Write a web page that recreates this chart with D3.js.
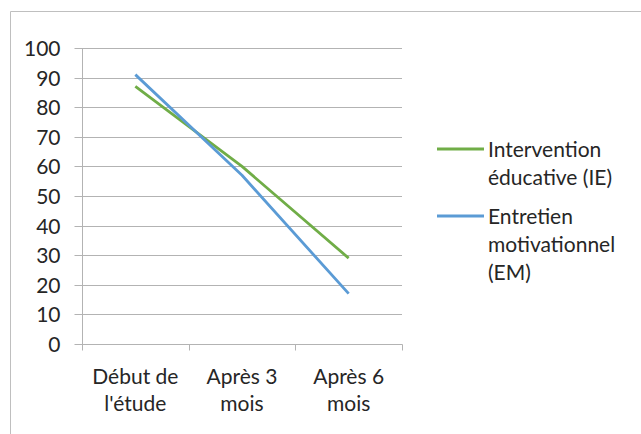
<!DOCTYPE html>
<html><head><meta charset="utf-8">
<script src="https://cdn.jsdelivr.net/npm/d3@7"></script>
<style>
html,body{margin:0;padding:0;background:#fff;}
svg{display:block;}
text{font-family:Lato,"Open Sans",sans-serif;fill:#262626;}
</style></head>
<body><svg id="c" width="641" height="434"></svg>
<script>
const categories = [["Début de","l'étude"],["Après 3","mois"],["Après 6","mois"]];
const seriesNames = [["Intervention","éducative (IE)"],["Entretien","motivationnel","(EM)"]];
const ieValues = [87, 60, 29];
const emValues = [91, 57, 17];
const yTicks = [0,10,20,30,40,50,60,70,80,90,100];
const colors = ["#70ad47","#5b9bd5"];

(function(){
const svg = d3.select("#c");
const fs = 21;
svg.append("path").attr("d","M10.5,434 V11.5 H641").attr("fill","none").attr("stroke","#bfbfbf").attr("stroke-width",1);

const pL=82, pR=402, pT=48, pB=344;
const catKeys = categories.map((c,i)=>i);
const xBand = d3.scaleBand().domain(catKeys).range([pL,pR]);
const x = d3.scalePoint().domain(catKeys).range([pL,pR]).padding(0.5);
const y = d3.scaleLinear().domain([0,100]).range([pB,pT]);

svg.append("g").selectAll("line").data(yTicks.filter(d=>d>0)).join("line")
  .attr("x1",pL).attr("x2",pR)
  .attr("y1",d=>Math.round(y(d))+0.5).attr("y2",d=>Math.round(y(d))+0.5)
  .attr("stroke","#b3b3b3").attr("stroke-width",1);

const ya = svg.append("g").attr("transform",`translate(${pL+0.5},0)`)
  .call(d3.axisLeft(y).tickValues(yTicks).tickSize(8).tickPadding(6));
ya.select(".domain").attr("stroke","#b3b3b3").attr("d",`M0,${pT}V${pB+0.5}`);
ya.selectAll(".tick line").attr("stroke","#b3b3b3");
ya.selectAll(".tick").attr("transform",d=>`translate(0,${Math.round(y(d))+0.5})`);
ya.selectAll("text").style("font-size",fs+"px").style("font-family","Lato").attr("fill","#262626").attr("x",-22).attr("dy","0.36em");

const xa = svg.append("g").attr("transform",`translate(0,${pB+0.5})`);
xa.append("line").attr("x1",pL).attr("x2",pR+0.5).attr("stroke","#b3b3b3");
const bounds = [pL, ...catKeys.map(k=>xBand(k)+xBand.bandwidth())];
xa.selectAll(".tk").data(bounds).join("line").attr("class","tk")
  .attr("x1",d=>Math.round(d)+0.5).attr("x2",d=>Math.round(d)+0.5)
  .attr("y1",0).attr("y2",6).attr("stroke","#b3b3b3");
xa.selectAll(".lbl").data(catKeys).join("text").attr("class","lbl")
  .attr("text-anchor","middle").style("font-size",fs+"px")
  .each(function(k){
    const t=d3.select(this);
    categories[k].forEach((s,i)=>t.append("tspan").attr("x",x(k)).attr("y",39+i*27).text(s));
  });

const line = d3.line().x((d,i)=>x(i)).y(d=>y(d));
[ieValues, emValues].forEach((vals,si)=>{
  svg.append("path").datum(vals).attr("d",line).attr("fill","none")
    .attr("stroke",colors[si]).attr("stroke-width",2.8).attr("stroke-linejoin","round");
});

const legY = [149, 216];
seriesNames.forEach((lines,si)=>{
  const g = svg.append("g");
  g.append("line").attr("x1",437).attr("x2",484).attr("y1",legY[si]).attr("y2",legY[si])
    .attr("stroke",colors[si]).attr("stroke-width",2.8);
  const t = g.append("text").style("font-size",fs+"px");
  lines.forEach((s,i)=>t.append("tspan").attr("x",488).attr("y",legY[si]+8+i*28).text(s));
});
})();
</script></body></html>
